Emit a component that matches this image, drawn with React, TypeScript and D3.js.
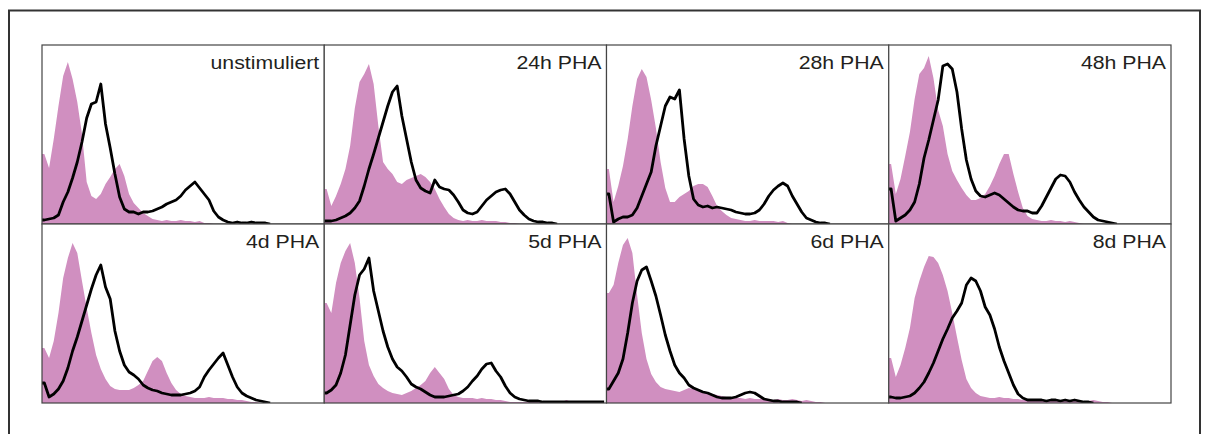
import React from 'react';
import * as d3 from 'd3';

// panel titles, left to right, top row first
const labels = ['unstimuliert', '24h PHA', '28h PHA', '48h PHA', '4d PHA', '5d PHA', '6d PHA', '8d PHA'];

// isotype control (filled pink), 60 channels each
const ctrl1 = [70,56,85,118,148,162,145,122,90,42,28,25,30,40,47,55,60,48,30,21,16,11,8,5,4,3,4,3,3,4,3,3,2,3,1,1,0,0,0,0,0,0,0,0,0,0,0,0,0,0,0,0,0,0,0,0,0,0,0,0];
const ctrl2 = [35,18,28,40,55,78,116,142,150,160,140,98,62,55,50,42,40,44,46,48,50,47,42,35,25,17,10,6,4,3,4,3,3,4,3,3,3,2,2,1,1,0,0,0,0,0,0,0,0,0,0,0,0,0,0,0,0,0,0,0];
const ctrl3 = [55,22,38,58,85,118,145,155,147,124,96,62,36,22,22,27,30,33,38,40,40,37,28,18,13,9,6,5,4,3,3,4,3,3,3,3,2,3,1,0,0,0,0,0,0,0,0,0,0,0,0,0,0,0,0,0,0,0,0,0];
const ctrl4 = [60,30,45,68,92,125,150,156,168,146,114,98,70,53,44,36,29,24,24,26,30,38,48,60,70,70,50,32,16,8,5,4,3,3,4,3,3,2,3,2,1,0,0,0,0,0,0,0,0,0,0,0,0,0,0,0,0,0,0,0];
const ctrl5 = [55,45,62,90,125,145,160,150,122,95,70,48,34,24,17,14,13,13,13,15,18,22,32,42,46,42,30,20,13,9,7,6,5,5,5,6,5,5,5,4,4,3,3,2,1,1,0,0,0,0,0,0,0,0,0,0,0,0,0,0];
const ctrl6 = [100,90,120,140,152,160,140,105,62,38,27,19,15,12,10,9,8,10,12,15,18,22,30,36,30,24,14,8,6,5,5,5,4,5,4,4,3,3,2,1,1,1,1,1,1,1,1,1,1,1,1,3,1,1,0,0,0,0,0,0];
const ctrl7 = [110,118,140,158,165,150,108,70,44,29,21,16,14,13,12,11,13,15,14,13,12,11,9,8,7,6,5,5,5,4,5,4,4,5,4,3,4,3,3,4,3,2,3,2,1,1,0,0,0,0,0,0,0,0,0,0,0,0,0,0];
const ctrl8 = [45,26,38,55,75,105,122,136,147,146,140,128,112,90,66,43,24,15,10,7,6,5,5,6,5,5,4,4,3,3,3,2,3,2,2,3,2,2,2,3,2,2,2,3,2,1,1,0,0,0,0,0,0,0,0,0,0,0,0,0];

// stained sample (black outline)
const stain1 = [4,5,6,9,22,32,46,62,82,106,120,122,140,100,76,50,27,15,12,12,10,12,12,13,15,17,20,22,24,28,34,38,42,36,30,24,13,7,4,2,1,2,1,1,2,1,1,1,0,0,0,0,0,0,0,0,0,0,0,0];
const stain2 = [3,3,4,6,8,11,16,23,38,55,70,86,102,118,132,138,108,85,62,44,36,33,31,44,37,35,34,29,22,14,11,10,12,18,24,28,32,34,35,30,22,14,9,5,3,2,2,1,1,0,0,0,0,0,0,0,0,0,0,0];
const stain3 = [30,2,5,7,7,9,16,28,40,52,78,98,118,127,125,134,85,48,25,19,17,18,16,17,16,15,14,12,11,10,10,11,14,20,28,34,38,41,38,28,20,12,6,4,2,1,1,0,0,0,0,0,0,0,0,0,0,0,0,0];
const stain4 = [35,3,6,9,14,22,40,66,84,104,124,158,160,155,132,95,64,45,33,28,27,29,31,29,25,21,17,14,13,13,11,11,18,27,36,45,49,48,42,32,24,17,12,7,4,3,2,1,0,0,0,0,0,0,0,0,0,0,0,0];
const stain5 = [20,6,9,14,22,35,52,66,82,98,114,128,138,116,104,72,52,38,31,28,24,18,15,13,12,10,9,8,8,8,9,10,12,16,26,33,39,45,50,38,26,16,10,7,5,3,2,1,0,0,0,0,0,0,0,0,0,0,0,0];
const stain6 = [10,13,18,30,48,78,108,128,134,145,112,92,72,56,44,36,32,26,19,16,14,11,8,6,6,6,7,8,9,12,16,22,27,34,39,40,32,26,17,10,6,4,3,2,2,2,1,1,1,1,1,1,1,1,1,1,1,1,1,1];
const stain7 = [14,22,30,44,70,100,122,133,136,122,107,88,68,52,38,30,25,18,15,13,11,10,8,6,5,5,5,6,8,10,11,10,7,4,3,2,2,1,1,1,1,0,0,0,0,0,0,0,0,0,0,0,0,0,0,0];
const stain8 = [6,5,5,6,7,10,15,21,30,40,52,64,74,85,92,100,118,125,122,112,96,88,74,56,42,30,18,9,5,3,3,3,3,2,3,3,2,3,2,3,2,1,1,0,0,0,0,0,0,0,0,0,0,0,0,0,0,0,0,0];

const controls = [ctrl1, ctrl2, ctrl3, ctrl4, ctrl5, ctrl6, ctrl7, ctrl8];
const stains = [stain1, stain2, stain3, stain4, stain5, stain6, stain7, stain8];

const W = 1206;
const H = 434;
const nBins = 60;
const pink = '#d08fc0';
const ink = '#231f20';

const colX = d3.scaleBand<number>().domain([0, 1, 2, 3]).range([42, 1171]).padding(0);
const rowY = d3.scaleBand<number>().domain([0, 1]).range([45, 403]).padding(0);

function Panel({ idx }: { idx: number }) {
  const col = idx % 4;
  const row = Math.floor(idx / 4);
  const x0 = colX(col)!;
  const y0 = rowY(row)!;
  const pw = colX.bandwidth();
  const ph = rowY.bandwidth();

  const x = d3.scaleLinear().domain([0, nBins]).range([x0, x0 + pw]);
  const y = d3.scaleLinear().domain([0, 179]).range([y0 + ph, y0]);

  const ctrl = controls[idx];
  const st = stains[idx];

  // points at channel centres, pinned to the left edge with channel 0
  const ctrlPts: [number, number][] = [[0, ctrl[0]], ...ctrl.map((v, i) => [i + 0.5, v] as [number, number]), [nBins, ctrl[ctrl.length - 1]]];

  // black trace stops where the counts run out
  let last = st.length - 1;
  while (last > 0 && st[last] === 0) last--;
  const stPts: [number, number][] = [[0, st[0]], ...st.slice(0, Math.min(st.length, last + 2)).map((v, i) => [i + 0.5, v] as [number, number])];

  const area = d3.area<[number, number]>()
    .x((d) => x(d[0]))
    .y0(y(0))
    .y1((d) => y(d[1]));

  const line = d3.line<[number, number]>()
    .x((d) => x(d[0]))
    .y((d) => y(d[1]));

  const clipId = `clip-${idx}`;
  return (
    <g>
      <defs>
        <clipPath id={clipId}>
          <rect x={x0} y={y0} width={pw} height={ph} />
        </clipPath>
      </defs>
      <rect x={x0} y={y0} width={pw} height={ph} fill="#fff" />
      <g clipPath={`url(#${clipId})`}>
        <path d={area(ctrlPts) || ''} fill={pink} />
        <path d={line(stPts) || ''} fill="none" stroke="#000" strokeWidth={2.8} strokeLinejoin="round" />
      </g>
      <rect x={x0} y={y0} width={pw} height={ph} fill="none" stroke="#444" strokeWidth={1.2} />
      <text
        transform={`translate(${x0 + pw - 5},${y0 + 24}) scale(1.15,1)`}
        textAnchor="end"
        fontFamily="'Liberation Sans', Arial, sans-serif"
        fontSize={18.5}
        fill={ink}
      >
        {labels[idx]}
      </text>
    </g>
  );
}

export default function App() {
  return (
    <svg width={W} height={H} style={{ position: 'absolute', left: 0, top: 0, background: '#fff' }}>
      <rect x={0} y={0} width={W} height={H} fill="#fff" />
      <path d={`M9,${H + 5}V10.5H1200V${H + 5}`} fill="none" stroke="#333" strokeWidth={2} />
      {labels.map((_, i) => (
        <Panel key={i} idx={i} />
      ))}
    </svg>
  );
}
